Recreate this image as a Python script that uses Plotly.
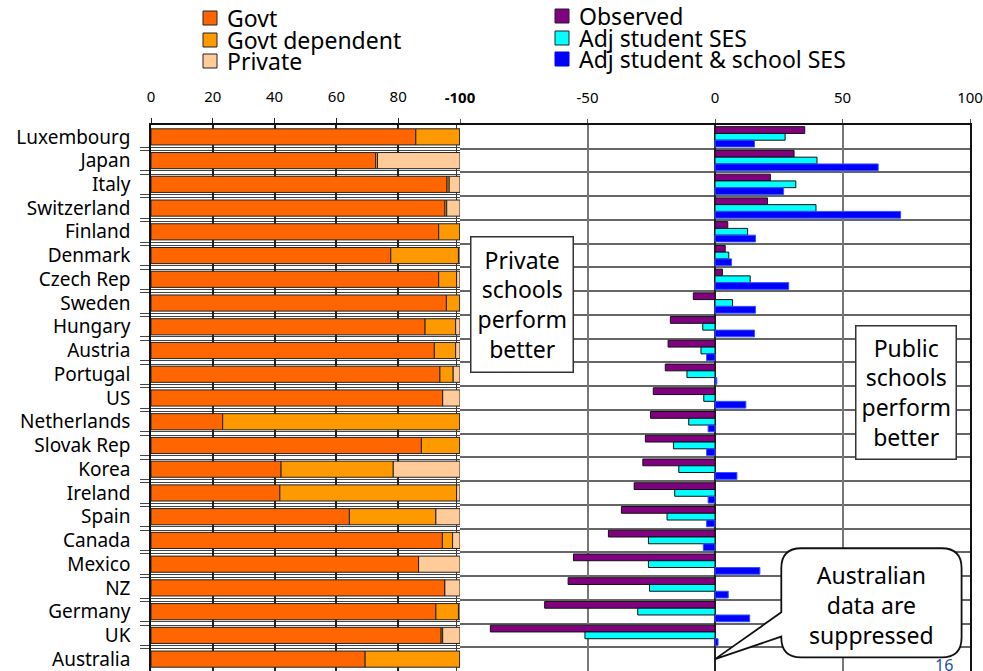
import plotly.graph_objects as go

# --- data -------------------------------------------------------------
countries = ["Luxembourg", "Japan", "Italy", "Switzerland", "Finland", "Denmark",
             "Czech Rep", "Sweden", "Hungary", "Austria", "Portugal", "US",
             "Netherlands", "Slovak Rep", "Korea", "Ireland", "Spain", "Canada",
             "Mexico", "NZ", "Germany", "UK", "Australia"]

# share of students by school type (%)
govt = [85.7, 72.7, 95.8, 95.1, 93.1, 77.6, 93.1, 95.6, 88.7, 91.7, 93.5, 94.4,
        23.2, 87.5, 42.1, 41.7, 64.2, 94.3, 86.6, 95.1, 92.2, 93.9, 69.3]
govt_dep = [14.3, 0.6, 0.7, 0.6, 6.9, 21.9, 5.8, 4.4, 9.9, 6.9, 4.3, 0.0,
            76.8, 12.5, 36.3, 57.2, 28.0, 3.3, 0.0, 0.0, 7.3, 0.5, 30.7]
private = [0.0, 26.7, 3.5, 4.3, 0.0, 0.5, 1.1, 0.0, 1.4, 1.4, 2.2, 5.6,
           0.0, 0.0, 21.6, 1.1, 7.8, 2.4, 13.4, 4.9, 0.5, 5.6, 0.0]

# public minus private score difference
observed = [35.2, 31.0, 21.7, 20.6, 5.0, 4.0, 2.9, -8.5, -17.5, -18.4, -19.5, -24.2,
            -25.3, -27.3, -28.3, -31.7, -36.7, -41.8, -55.5, -57.6, -66.8, -88.1, None]
adj_student = [27.5, 40.0, 31.7, 39.6, 12.8, 5.4, 13.8, 6.9, -4.8, -5.5, -11.0, -4.4,
               -10.3, -16.3, -14.2, -15.8, -18.8, -26.1, -26.1, -25.7, -30.3, -51.0, None]
adj_school = [15.5, 64.0, 26.9, 72.8, 15.9, 6.5, 28.9, 15.9, 15.5, -3.3, 0.7, 12.1,
              -2.7, -3.3, 8.6, -2.7, -3.3, -4.6, 17.6, 5.2, 13.6, 1.2, None]

left_ticks = [0, 20, 40, 60, 80]
right_ticks = [-100, -50, 0, 50, 100]
right_ticktext = ["<b>-100</b>", "-50", "0", "50", "100"]

FONT = "Noto Sans"
W, H = 983, 671
ML, MR, MT, MB = 151, 13, 125, 0
PW, PH = W - ML - MR, H - MT - MB
SPLIT = 309 / PW  # left panel share of the width

def px(xp):
    return (xp - ML) / PW

def py(yp):
    return (H - MB - yp) / PH

pos = list(range(len(countries)))
boundaries = [k + 0.5 for k in range(len(countries) - 1)]

fig = go.Figure()

# --- left panel: stacked shares --------------------------------------
base_dep = [g for g in govt]
base_priv = [g + d for g, d in zip(govt, govt_dep)]
for name, vals, base, color in [
        ("Govt", govt, None, "#FF6600"),
        ("Govt dependent", govt_dep, base_dep, "#FF9900"),
        ("Private", private, base_priv, "#FFCC99")]:
    fig.add_trace(go.Bar(
        name=name, y=pos, x=vals, base=base, orientation="h",
        width=0.68, marker=dict(color=color, line=dict(color="#222", width=1)),
        xaxis="x", yaxis="y", showlegend=False))

# --- right panel: grouped score differences --------------------------
for name, vals, color, edge, off in [
        ("Observed", observed, "#800080", "#111", -0.43),
        ("Adj student SES", adj_student, "#00FFFF", "#111", -0.145),
        ("Adj student & school SES", adj_school, "#0000FF", "#3355FF", 0.14)]:
    fig.add_trace(go.Bar(
        name=name, y=pos, x=vals, orientation="h", width=0.285, offset=off,
        marker=dict(color=color, line=dict(color=edge, width=1)),
        xaxis="x2", yaxis="y2", showlegend=False))

tickfont = dict(family=FONT, size=15, color="black")

fig.update_layout(
    width=W, height=H,
    margin=dict(l=ML, r=MR, t=MT, b=MB),
    paper_bgcolor="white", plot_bgcolor="white",
    barmode="overlay",
    font=dict(family=FONT, color="black"),
    xaxis=dict(domain=[0, SPLIT], range=[0, 100], side="top",
               tickvals=left_ticks, tickfont=tickfont,
               ticks="outside", ticklen=5, tickcolor="#222", ticklabelstandoff=10,
               showgrid=True, gridcolor="#222", gridwidth=1.5, zeroline=False,
               showline=True, linecolor="#111", linewidth=1.5,
               minor=dict(tickvals=[99.0], showgrid=True, gridcolor="#333", gridwidth=1.2),
               anchor="y", fixedrange=True),
    xaxis2=dict(domain=[SPLIT, 1], range=[-100, 100], side="top",
                tickvals=right_ticks, ticktext=right_ticktext, tickfont=tickfont,
                ticks="outside", ticklen=4, tickcolor="#555", ticklabelstandoff=10,
                showgrid=True, gridcolor="#777", gridwidth=1.8,
                zeroline=True, zerolinecolor="#222", zerolinewidth=1.5,
                showline=True, linecolor="#111", linewidth=1.5,
                anchor="y2", fixedrange=True),
    yaxis=dict(domain=[0, 1], range=[len(countries) - 0.5, -0.5],
               tickvals=pos, ticktext=countries,
               tickfont=dict(family=FONT, size=19, color="black"),
               ticks="", ticklabelstandoff=15, ticklabeloverflow="allow",
               showgrid=False, zeroline=False,
               showline=True, linecolor="#111", linewidth=1.5,
               minor=dict(tickvals=[b + s for b in boundaries for s in (-0.07, 0.07)],
                          ticks="outside", ticklen=9, tickcolor="#444",
                          showgrid=True, gridcolor="#444", gridwidth=1.1),
               anchor="x", fixedrange=True),
    yaxis2=dict(domain=[0, 1], matches="y", range=[len(countries) - 0.5, -0.5],
                showticklabels=False, ticks="", showgrid=False, zeroline=False,
                side="right", showline=True, linecolor="#111", linewidth=1.5,
                minor=dict(tickvals=boundaries, showgrid=True,
                           gridcolor="#666", gridwidth=1.8),
                anchor="x2", fixedrange=True),
)

# --- legends -----------------------------------------------------------
shapes = []
annotations = []

def legend_block(x_sq, y_centers, items):
    for yc, (label, color, edge) in zip(y_centers, items):
        shapes.append(dict(type="rect", xref="paper", yref="paper",
                           x0=px(x_sq), x1=px(x_sq + 14), y0=py(yc + 7), y1=py(yc - 7),
                           fillcolor=color, line=dict(color=edge, width=1)))
        annotations.append(dict(xref="paper", yref="paper", x=px(x_sq + 22), y=py(yc),
                                xanchor="left", yanchor="middle", showarrow=False,
                                text=label, font=dict(family=FONT, size=23, color="black")))

legend_block(203, [18, 40, 61], [("Govt", "#FF6600", "#222"),
                                  ("Govt dependent", "#FF9900", "#222"),
                                  ("Private", "#FFCC99", "#222")])
legend_block(555, [16, 38, 59], [("Observed", "#800080", "#222"),
                                  ("Adj student SES", "#00FFFF", "#222"),
                                  ("Adj student & school SES", "#0000FF", "#0000FF")])

# --- text boxes --------------------------------------------------------
box_font = dict(family=FONT, size=23, color="black")
annotations.append(dict(xref="x2", yref="y2", x=-75.5, y=7.06, showarrow=False,
                        text="Private<br>schools<br>perform<br>better", font=box_font,
                        bgcolor="white", bordercolor="#333", borderwidth=1.5, borderpad=6))
annotations.append(dict(xref="x2", yref="y2", x=75, y=10.78, showarrow=False,
                        text="Public<br>schools<br>perform<br>better", font=box_font,
                        bgcolor="white", bordercolor="#333", borderwidth=1.5, borderpad=5))

# speech bubble pointing at the missing Australian row
tip_x, tip_y = 0, countries.index("Australia")
x0, x1, y0, y1 = 26, 96.7, 17.33, 21.93
rx, ry = 7.8, 0.84
bubble = (f"M {x0},{y0 + ry} Q {x0},{y0} {x0 + rx},{y0} L {x1 - rx},{y0} "
          f"Q {x1},{y0} {x1},{y0 + ry} L {x1},{y1 - ry} Q {x1},{y1} {x1 - rx},{y1} "
          f"L {x0 + rx},{y1} Q {x0},{y1} {x0},{y1 - ry} L {x0},21.05 "
          f"L {tip_x},{tip_y} L {x0},20.03 Z")
shapes.append(dict(type="path", xref="x2", yref="y2", path=bubble,
                   fillcolor="white", line=dict(color="#111", width=1.8), layer="above"))
annotations.append(dict(xref="x2", yref="y2", x=61.5, y=19.7, showarrow=False,
                        text="Australian<br>data are<br>suppressed", font=box_font))

# page number
annotations.append(dict(xref="paper", yref="paper", x=px(955), y=py(678), showarrow=False,
                        text="16", font=dict(family=FONT, size=16, color="#1F4FA8")))

fig.update_layout(shapes=shapes, annotations=annotations)

fig.write_html("out.html")
